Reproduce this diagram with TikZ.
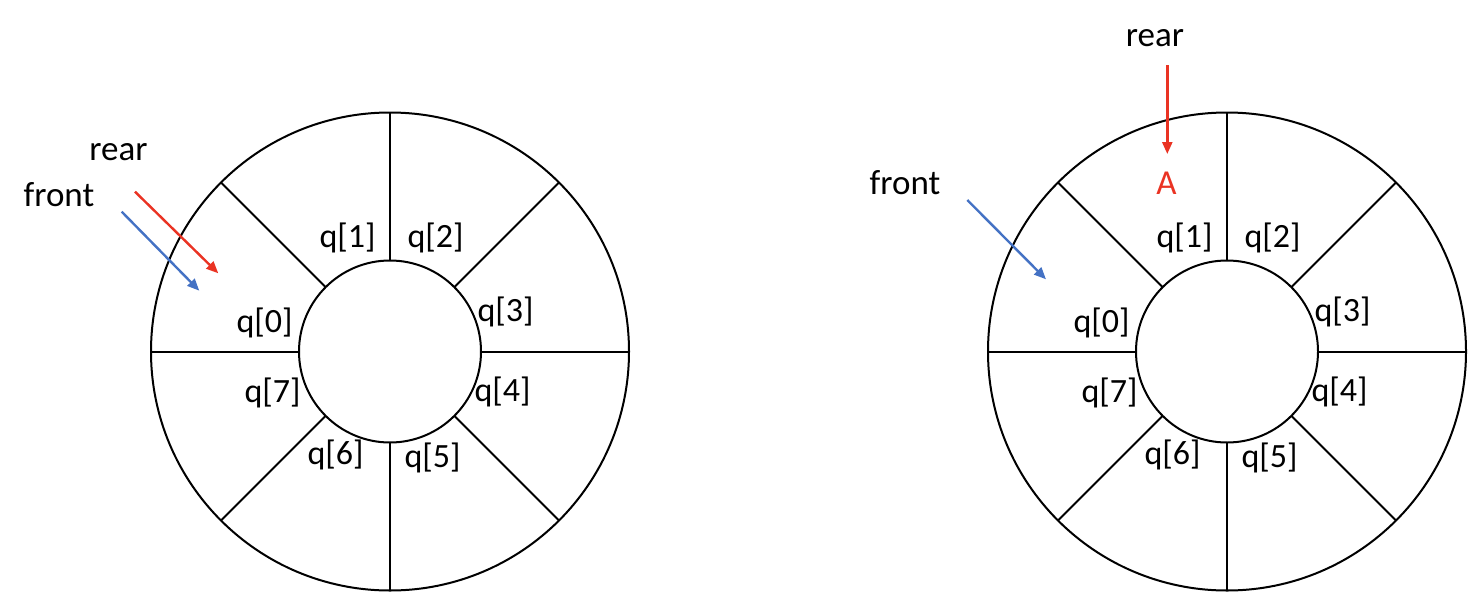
\documentclass[tikz,border=0pt]{standalone}
\usepackage{fontspec}
\setmainfont{Carlito}
\usetikzlibrary{arrows.meta}
\definecolor{rearred}{RGB}{234,51,35}
\definecolor{frontblue}{HTML}{4472C4}
\begin{document}
\begin{tikzpicture}[x=1pt,y=-1pt,
  ring/.style={circle, draw=black, line width=2pt, inner sep=0pt, outer sep=0pt},
  spoke/.style={draw=black, line width=2pt},
  qlabel/.style={inner sep=0pt, font=\fontsize{34}{40}\selectfont},
  txt/.style={inner sep=0pt, anchor=base, font=\fontsize{35}{40}\selectfont},
  ptr/.style={line width=2.4pt, -{Triangle[length=12pt,width=10pt]}},
  rearptr/.style={ptr, draw=rearred, fill=rearred},
  frontptr/.style={ptr, draw=frontblue, fill=frontblue}]
\useasboundingbox (0,0) rectangle (1468,592);
\foreach \s/\cx in {L/390,R/1227} {
  \node[ring, minimum size=478pt] (outer\s) at (\cx,351.5) {};
  \node[ring, minimum size=182pt] (inner\s) at (\cx,351.5) {};
  \foreach \a in {0,45,...,315}
    \draw[spoke] (inner\s.\a) -- (outer\s.\a);
  \foreach \k/\dx/\dy in {0/-125.5/-28.5, 1/-42.5/-113.5, 2/45.5/-113.5, 3/115.5/-39.5,
                          4/112.5/40.5, 5/42.5/106.5, 6/-54.5/103.5, 7/-117.5/41.5}
    \node[qlabel] (q\s\k) at (\cx+\dx,351.5+\dy) {q[\k]};
}
% left pointers
\node[txt] (rearL) at (118.5,160) {rear};
\node[txt] (frontL) at (59,206.7) {front};
\coordinate (rearLa) at (135,191.7);
\coordinate (rearLb) at (218.3,273.3);
\coordinate (frontLa) at (121.7,211.7);
\coordinate (frontLb) at (199.3,290.7);
\draw[rearptr] (rearLa) -- (rearLb);
\draw[frontptr] (frontLa) -- (frontLb);
% right pointers
\node[txt] (rearR) at (1155,46) {rear};
\node[txt, text=rearred] (A) at (1166.5,194) {A};
\node[txt] (frontR) at (905,194) {front};
\coordinate (rearRa) at (1167.3,65);
\coordinate (rearRb) at (1167.3,154);
\coordinate (frontRa) at (967.3,200);
\coordinate (frontRb) at (1046,279.3);
\draw[rearptr] (rearRa) -- (rearRb);
\draw[frontptr] (frontRa) -- (frontRb);
\end{tikzpicture}
\end{document}
